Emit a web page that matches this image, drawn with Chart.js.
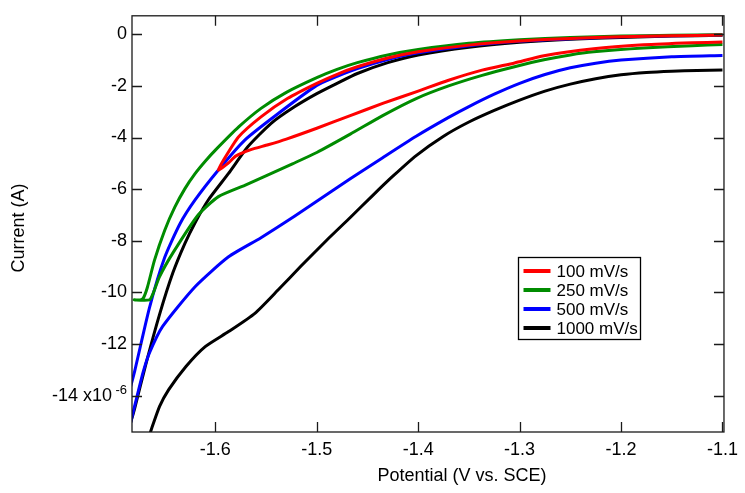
<!DOCTYPE html>
<html>
<head>
<meta charset="utf-8">
<script src="https://cdn.jsdelivr.net/npm/chart.js@4.4.1/dist/chart.umd.min.js"></script>
<style>
  html, body { margin: 0; padding: 0; background: #fff; }
</style>
</head>
<body>
<canvas id="cv-chart" width="745" height="493"></canvas>
<script>
(function () {
    "use strict";

    // scan rates shown in the legend
    var scanLabels = ["100 mV/s", "250 mV/s", "500 mV/s", "1000 mV/s"];

    // tick values
    var potentialTicks = [-1.6, -1.5, -1.4, -1.3, -1.2, -1.1];
    var currentTicks = [0, -2, -4, -6, -8, -10, -12, -14];

    // potential (V vs. SCE) and current (x10^-6 A), upper branch right->left then lower branch left->right
    var potential100 = [-1.10, -1.15, -1.20, -1.25, -1.30, -1.35, -1.40, -1.43, -1.46, -1.48, -1.50, -1.529, -1.555, -1.577, -1.59, -1.597,
        -1.587, -1.58, -1.565, -1.548, -1.53, -1.50, -1.467, -1.435, -1.40, -1.37, -1.337, -1.305, -1.276, -1.227, -1.178, -1.13, -1.10];
    var current100 = [-0.03, -0.06, -0.10, -0.16, -0.26, -0.42, -0.68, -0.92, -1.26, -1.55, -1.90, -2.49, -3.20, -3.97, -4.75, -5.26,
        -4.98, -4.72, -4.47, -4.28, -4.06, -3.64, -3.15, -2.68, -2.20, -1.78, -1.39, -1.11, -0.83, -0.56, -0.41, -0.33, -0.30];

    var potential250 = [-1.10, -1.15, -1.20, -1.25, -1.30, -1.35, -1.40, -1.43, -1.46, -1.48, -1.50, -1.53, -1.555, -1.577, -1.60,
        -1.61, -1.62, -1.63, -1.64, -1.65, -1.66, -1.667, -1.671, -1.674, -1.68,
        -1.665, -1.662, -1.655, -1.642, -1.617, -1.597, -1.571, -1.548, -1.524, -1.50, -1.467, -1.435, -1.402, -1.37,
        -1.337, -1.305, -1.276, -1.25, -1.227, -1.178, -1.13, -1.10];
    var current250 = [-0.02, -0.04, -0.07, -0.12, -0.21, -0.35, -0.59, -0.80, -1.10, -1.36, -1.68, -2.25, -2.87, -3.59, -4.49,
        -4.92, -5.40, -5.98, -6.70, -7.60, -8.75, -9.80, -10.22, -10.29, -10.29,
        -10.29, -10.10, -9.39, -8.48, -7.00, -6.29, -5.85, -5.45, -5.02, -4.58, -3.87, -3.15, -2.49, -2.00,
        -1.59, -1.26, -0.99, -0.80, -0.68, -0.53, -0.44, -0.40];

    var potential500 = [-1.10, -1.15, -1.20, -1.25, -1.30, -1.35, -1.40, -1.43, -1.46, -1.48, -1.50, -1.538, -1.571, -1.597, -1.62,
        -1.635, -1.65, -1.665, -1.6796, -1.69,
        -1.69, -1.680, -1.6715, -1.665, -1.652, -1.62, -1.587, -1.555, -1.522, -1.50, -1.467, -1.435, -1.402, -1.37, -1.35, -1.325,
        -1.30, -1.275, -1.25, -1.225, -1.20, -1.15, -1.10];
    var current500 = [-0.03, -0.06, -0.10, -0.17, -0.27, -0.44, -0.72, -0.98, -1.33, -1.63, -1.98, -3.07, -4.10, -5.26, -6.42,
        -7.35, -8.65, -10.60, -13.06, -14.70,
        -16.00, -14.47, -13.13, -12.35, -11.32, -9.78, -8.62, -7.88, -7.05, -6.47, -5.60, -4.78, -3.95, -3.22, -2.80, -2.32,
        -1.90, -1.56, -1.30, -1.12, -1.00, -0.87, -0.82];

    var potential1000 = [-1.10, -1.15, -1.20, -1.25, -1.30, -1.35, -1.40, -1.43, -1.46, -1.48, -1.50, -1.522, -1.545, -1.568, -1.587,
        -1.607, -1.62, -1.63, -1.642, -1.655, -1.668, -1.6796, -1.69,
        -1.67, -1.663, -1.655, -1.646, -1.629, -1.61, -1.587, -1.561, -1.538, -1.516, -1.49, -1.467, -1.445, -1.425, -1.402,
        -1.375, -1.35, -1.325, -1.30, -1.275, -1.25, -1.225, -1.20, -1.175, -1.15, -1.125, -1.10];
    var current1000 = [-0.04, -0.07, -0.12, -0.19, -0.31, -0.50, -0.80, -1.10, -1.52, -1.90, -2.30, -2.81, -3.45, -4.36, -5.39,
        -6.42, -7.30, -8.10, -9.25, -10.85, -12.70, -14.50, -16.20,
        -16.05, -15.29, -14.42, -13.77, -12.87, -12.10, -11.52, -10.81, -9.90, -9.00, -7.97, -7.10, -6.25, -5.50, -4.70,
        -3.95, -3.40, -2.95, -2.55, -2.20, -1.93, -1.72, -1.57, -1.48, -1.43, -1.40, -1.38];

    var seriesX = [potential100, potential250, potential500, potential1000];
    var seriesY = [current100, current250, current500, current1000];
    var lineColors = ["#ff0000", "#008c00", "#0000ff", "#000000"];

    var FONT = "'Liberation Sans', Arial, sans-serif";

    function toPoints(xs, ys) {
        return xs.map(function (x, i) { return { x: x, y: ys[i] }; });
    }

    var datasets = scanLabels.map(function (label, i) {
        return {
            label: label,
            data: toPoints(seriesX[i], seriesY[i]),
            showLine: true,
            borderColor: lineColors[i],
            backgroundColor: lineColors[i],
            borderWidth: 3,
            pointRadius: 0,
            tension: 0.2
        };
    });

    function useTicks(values) {
        return function (scale) {
            scale.ticks = values.map(function (v) { return { value: v }; });
        };
    }

    // frame with inward ticks on all four sides, axis titles, exponent and the boxed legend
    var framePlugin = {
        id: "cvFrame",
        afterDatasetsDraw: function (chart) {
            var ctx = chart.ctx;
            var a = chart.chartArea;
            var xs = chart.scales.x;
            var ys = chart.scales.y;
            ctx.save();
            ctx.strokeStyle = "#1a1a1a";
            ctx.lineWidth = 1.3;
            ctx.strokeRect(a.left, a.top, a.right - a.left, a.bottom - a.top);
            ctx.beginPath();
            xs.ticks.forEach(function (t) {
                var px = Math.round(xs.getPixelForValue(t.value)) + 0.5;
                ctx.moveTo(px, a.bottom); ctx.lineTo(px, a.bottom - 10);
                ctx.moveTo(px, a.top); ctx.lineTo(px, a.top + 10);
            });
            ys.ticks.forEach(function (t) {
                var py = Math.round(ys.getPixelForValue(t.value)) + 0.5;
                ctx.moveTo(a.left, py); ctx.lineTo(a.left + 10, py);
                ctx.moveTo(a.right, py); ctx.lineTo(a.right - 10, py);
            });
            ctx.stroke();

            // exponent of the -14 label
            ctx.fillStyle = "#000";
            ctx.font = "13px " + FONT;
            ctx.textAlign = "right";
            ctx.textBaseline = "alphabetic";
            ctx.fillText("-6", a.left - 5, ys.getPixelForValue(-14) - 2);

            // axis titles
            ctx.font = "18px " + FONT;
            ctx.textAlign = "center";
            ctx.fillText("Potential (V vs. SCE)", 462, 481);
            ctx.save();
            ctx.translate(24, 228);
            ctx.rotate(-Math.PI / 2);
            ctx.fillText("Current (A)", 0, 0);
            ctx.restore();

            // legend
            var lx = 518.5, ly = 257.5;
            ctx.lineWidth = 1.3;
            ctx.strokeStyle = "#000";
            ctx.strokeRect(lx, ly, 122, 82);
            ctx.font = "17px " + FONT;
            ctx.textAlign = "left";
            ctx.textBaseline = "middle";
            chart.data.datasets.forEach(function (ds, i) {
                var ry = ly + 13.5 + i * 19;
                ctx.strokeStyle = ds.borderColor;
                ctx.lineWidth = 4;
                ctx.beginPath();
                ctx.moveTo(lx + 5, ry);
                ctx.lineTo(lx + 32, ry);
                ctx.stroke();
                ctx.fillStyle = "#000";
                ctx.fillText(ds.label, lx + 38, ry + 1);
            });
            ctx.restore();
        }
    };

    var ctxCv = document.getElementById("cv-chart").getContext("2d");
    var cvChart = new Chart(ctxCv, {
        type: "scatter",
        data: { datasets: datasets },
        plugins: [framePlugin],
        options: {
            responsive: false,
            animation: false,
            layout: { padding: { top: 15, right: 14, left: 0, bottom: 0 } },
            plugins: {
                legend: { display: false },
                tooltip: { enabled: false }
            },
            scales: {
                x: {
                    type: "linear",
                    min: -1.6822,
                    max: -1.0985,
                    grid: { display: false, drawTicks: false },
                    border: { display: false },
                    ticks: {
                        padding: 7,
                        color: "#000",
                        font: { family: FONT, size: 18 },
                        maxRotation: 0,
                        autoSkip: false,
                        callback: function (v) { return v.toFixed(1); }
                    },
                    afterBuildTicks: useTicks(potentialTicks),
                    afterFit: function (s) { s.height = 61; }
                },
                y: {
                    type: "linear",
                    min: -15.41,
                    max: 0.716,
                    grid: { display: false, drawTicks: false },
                    border: { display: false },
                    ticks: {
                        padding: 5,
                        color: "#000",
                        autoSkip: false,
                        font: { family: FONT, size: 18 },
                        callback: function (v) {
                            var n = Math.round(v);
                            return n === -14 ? "-14 x10   " : String(n);
                        }
                    },
                    afterBuildTicks: useTicks(currentTicks),
                    afterFit: function (s) { s.width = 132; }
                }
            }
        }
    });
})();
</script>
</body>
</html>
